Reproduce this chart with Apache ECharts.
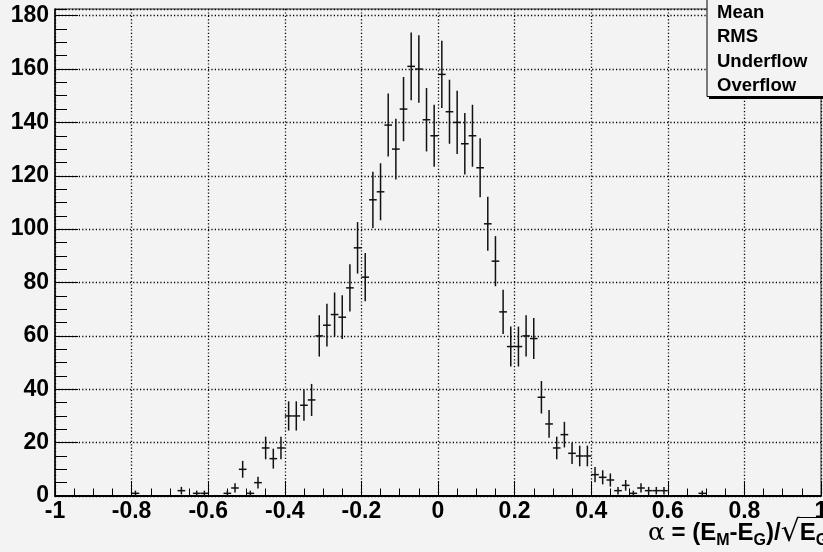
<!DOCTYPE html>
<html>
<head>
<meta charset="utf-8">
<script src="https://cdn.jsdelivr.net/npm/echarts@6/dist/echarts.min.js"></script>
<style>
html,body{margin:0;padding:0;background:#f3f3f3;}
#c{width:823px;height:552px;}
</style>
</head>
<body>
<div id="c"></div>
<script>
// ---- data ----
const binWidth = 0.02;
const binCenters = [-0.79, -0.67, -0.63, -0.61,
  -0.55, -0.53, -0.51, -0.49, -0.47, -0.45, -0.43, -0.41, -0.39, -0.37, -0.35, -0.33, -0.31, -0.29,
  -0.27, -0.25, -0.23, -0.21, -0.19, -0.17, -0.15, -0.13, -0.11, -0.09, -0.07, -0.05, -0.03, -0.01,
  0.01, 0.03, 0.05, 0.07, 0.09, 0.11, 0.13, 0.15, 0.17, 0.19, 0.21, 0.23, 0.25, 0.27, 0.29, 0.31,
  0.33, 0.35, 0.37, 0.39, 0.41, 0.43, 0.45, 0.47, 0.49, 0.51, 0.53, 0.55, 0.57, 0.59, 0.69];
const counts = [1, 2, 1, 1,
  1, 3, 10, 1, 5, 18, 14, 18, 30, 30, 34, 36, 60, 64,
  68, 67, 78, 93, 82, 111, 114, 139, 130, 145, 161, 160, 141, 135,
  158, 144, 140, 132, 135, 123, 102, 88, 69, 56, 56, 60, 59, 37, 27, 18,
  23, 16, 15, 15, 8, 7, 6, 2, 4, 1, 3, 2, 2, 2, 1];
const statLabels = ['Mean', 'RMS', 'Underflow', 'Overflow'];
const xMin = -1, xMax = 1, xStep = 0.2;
const yMin = 0, yMax = 182.5, yStep = 20, yMinorStep = 5;

const FONT = '"Liberation Sans", Arial, Helvetica, sans-serif';
const data = binCenters.map((c, i) => [c, counts[i]]);

const chart = echarts.init(document.getElementById('c'), null, {renderer: 'canvas'});
const dotted = {color: '#000', width: 1.3, type: [1.2, 2.2]};

const statsGraphics = [
  {type: 'rect', z: 100, shape: {x: 709, y: 0, width: 140, height: 99}, style: {fill: '#000'}},
  {type: 'rect', z: 101, shape: {x: 707, y: -3, width: 140, height: 99.5}, style: {fill: '#f3f3f3', stroke: '#000', lineWidth: 1}}
].concat(statLabels.map((t, i) => ({
  type: 'text', z: 102, x: 717, y: 13 + i * 24.4,
  style: {text: t, font: 'bold 18.5px ' + FONT, fill: '#000', verticalAlign: 'middle', align: 'left'}
})));

chart.setOption({
  backgroundColor: '#f3f3f3',
  animation: false,
  grid: {left: 55, right: 2, top: 9, bottom: 56, show: true, backgroundColor: '#f3f3f3', borderColor: '#333', borderWidth: 1,
    containLabel: false, outerBoundsMode: 'none'},
  xAxis: {
    type: 'value', min: xMin, max: xMax, interval: xStep,
    axisLine: {show: true, onZero: false, lineStyle: {color: '#000', width: 2}},
    axisTick: {show: true, inside: true, length: 15, lineStyle: {color: '#000', width: 1}},
    minorTick: {show: true, splitNumber: 4, length: 7.5, lineStyle: {color: '#000', width: 1}},
    axisLabel: {margin: 4, color: '#000', fontFamily: FONT, fontWeight: 'bold', fontSize: 23, hideOverlap: false,
      formatter: v => String(Math.round(v * 10) / 10)},
    splitLine: {show: true, lineStyle: dotted}
  },
  yAxis: [{
    type: 'value', min: yMin, max: yMax, interval: yStep,
    axisLine: {show: true, onZero: false, lineStyle: {color: '#000', width: 1.5}},
    axisTick: {show: true, inside: true, length: 23, lineStyle: {color: '#000', width: 1}},
    axisLabel: {margin: 6, color: '#000', fontFamily: FONT, fontWeight: 'bold', fontSize: 23, showMaxLabel: false,
      formatter: v => (v % yStep === 0 ? String(v) : '')},
    splitLine: {show: true, lineStyle: dotted}
  }, {
    type: 'value', min: yMin, max: yMax, interval: yMinorStep, position: 'left',
    axisLine: {show: false, onZero: false},
    axisTick: {show: true, inside: true, length: 12, lineStyle: {color: '#000', width: 1}},
    axisLabel: {show: false},
    splitLine: {show: false}
  }],
  series: [{
    type: 'custom',
    xAxisIndex: 0, yAxisIndex: 0,
    data: data,
    clip: true,
    renderItem: function (params, api) {
      const x = api.value(0), y = api.value(1), e = Math.sqrt(y);
      const l = api.coord([x - binWidth / 2, y]), r = api.coord([x + binWidth / 2, y]);
      const t = api.coord([x, y + e]), b = api.coord([x, y - e]);
      const st = {stroke: '#111', lineWidth: 1.5};
      return {type: 'group', children: [
        {type: 'line', shape: {x1: l[0], y1: l[1], x2: r[0], y2: r[1]}, style: st},
        {type: 'line', shape: {x1: t[0], y1: t[1], x2: b[0], y2: b[1]}, style: st}
      ]};
    }
  }],
  graphic: statsGraphics.concat([
    {type: 'text', z: 50, x: 648, y: 518,
      style: {
        text: '{a|α}{b| = (E}{s|M}{b|-E}{s|G}{b|)/}{r|√}{b|E}{s|G}',
        rich: {
          a: {font: '25px "DejaVu Serif", serif', fill: '#000'},
          b: {font: 'bold 24px ' + FONT, fill: '#000'},
          s: {font: 'bold 16px ' + FONT, fill: '#000', padding: [15, 0, 0, 0]},
          r: {font: '30px "DejaVu Sans", sans-serif', fill: '#000'}
        }
      }},
    {type: 'line', z: 50, shape: {x1: 797, y1: 517.5, x2: 830, y2: 517.5}, style: {stroke: '#000', lineWidth: 1.2}}
  ])
});
</script>
</body>
</html>
